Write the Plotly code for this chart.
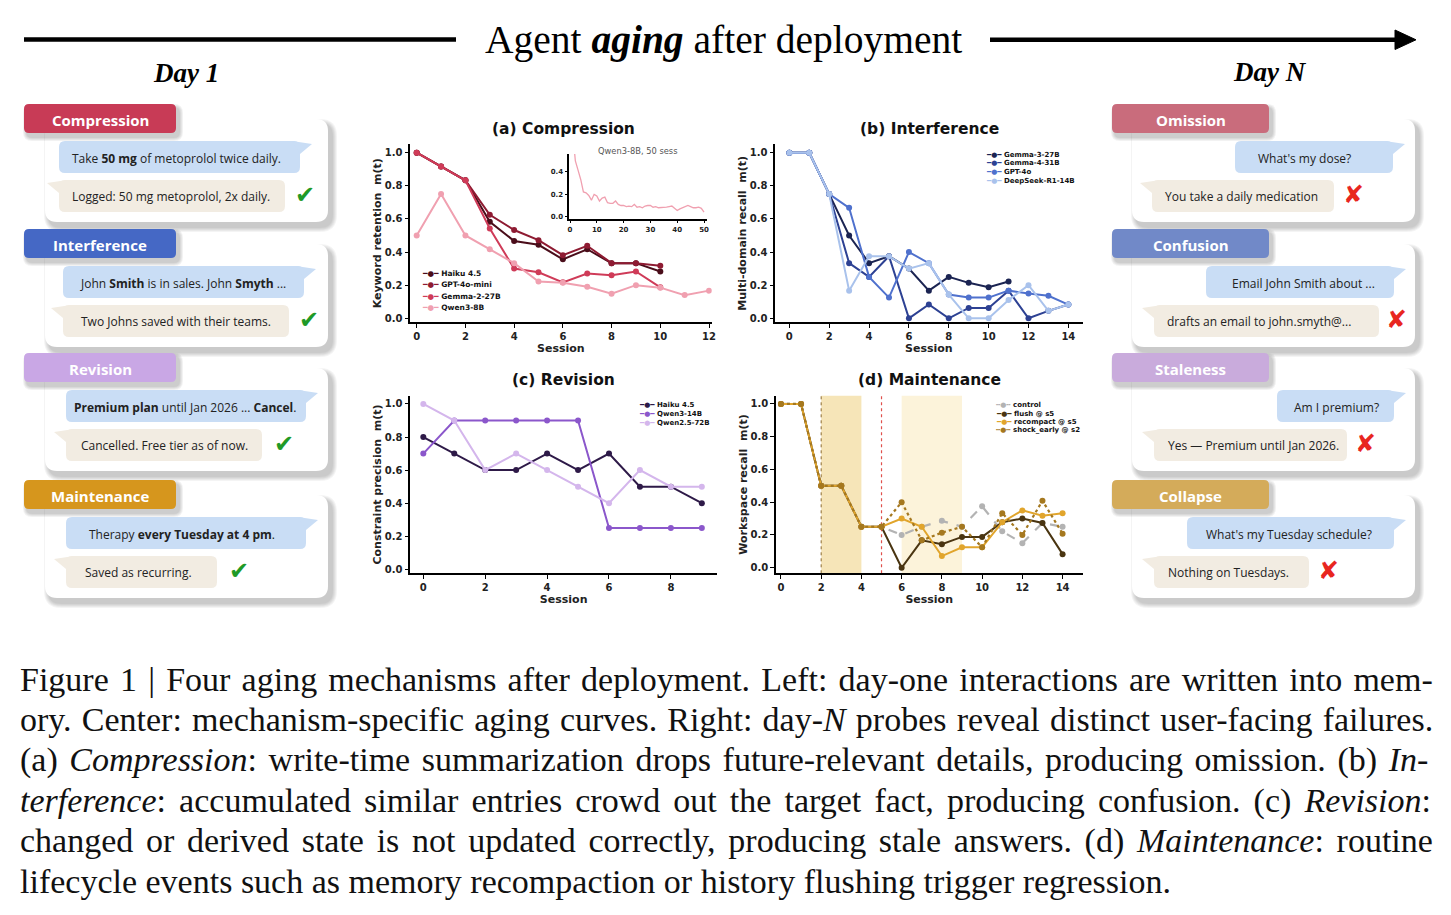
import plotly.graph_objects as go

W, H = 1451, 915

# ---------------- data ----------------
comp_sessions = list(range(11))
comp_sessions_qwen = list(range(13))
comp_haiku = [1.0, 0.917, 0.833, 0.583, 0.467, 0.444, 0.356, 0.417, 0.333, 0.333, 0.283]
comp_gpt4omini = [1.0, 0.917, 0.833, 0.625, 0.533, 0.472, 0.381, 0.438, 0.333, 0.333, 0.317]
comp_gemma2 = [1.0, 0.917, 0.833, 0.542, 0.300, 0.278, 0.217, 0.270, 0.260, 0.283, 0.187]
comp_qwen3_8b = [0.5, 0.75, 0.5, 0.417, 0.333, 0.222, 0.214, 0.190, 0.148, 0.200, 0.185, 0.140, 0.167]

inset_sessions = list(range(1, 51))
inset_qwen3_8b = [0.75, 0.5, 0.417, 0.333, 0.222, 0.214, 0.19, 0.148, 0.2, 0.185,
                  0.14, 0.167, 0.175, 0.125, 0.12, 0.12, 0.14, 0.11, 0.1, 0.1,
                  0.09, 0.095, 0.09, 0.11, 0.085, 0.09, 0.08, 0.095, 0.1, 0.1,
                  0.085, 0.09, 0.08, 0.08, 0.08, 0.085, 0.09, 0.095, 0.075, 0.055,
                  0.07, 0.08, 0.095, 0.1, 0.09, 0.08, 0.08, 0.085, 0.075, 0.04]

intf_sessions_gemma3 = list(range(12))
intf_sessions = list(range(15))
intf_gemma3 = [1.0, 1.0, 0.75, 0.5, 0.333, 0.375, 0.3, 0.167, 0.25, 0.214, 0.188, 0.222]
intf_gemma4 = [1.0, 1.0, 0.75, 0.333, 0.25, 0.375, 0.0, 0.083, 0.0, 0.0625, 0.0625, 0.167, 0.0, 0.045, 0.083]
intf_gpt4o = [1.0, 1.0, 0.75, 0.667, 0.25, 0.125, 0.4, 0.333, 0.143, 0.125, 0.125, 0.167, 0.15, 0.136, 0.083]
intf_deepseek = [1.0, 1.0, 0.75, 0.167, 0.375, 0.375, 0.3, 0.333, 0.143, 0.0, 0.0, 0.111, 0.2, 0.045, 0.083]

rev_sessions = list(range(10))
rev_haiku = [0.8, 0.7, 0.6, 0.6, 0.7, 0.6, 0.7, 0.5, 0.5, 0.4]
rev_qwen3_14b = [0.7, 0.9, 0.9, 0.9, 0.9, 0.9, 0.25, 0.25, 0.25, 0.25]
rev_qwen25_72b = [1.0, 0.9, 0.6, 0.7, 0.6, 0.5, 0.4, 0.6, 0.5, 0.5]

maint_sessions = list(range(15))
maint_control = [1.0, 1.0, 0.5, 0.5, 0.25, 0.25, 0.2, 0.25, 0.286, 0.25, 0.375, 0.222, 0.15, 0.273, 0.25]
maint_flush = [1.0, 1.0, 0.5, 0.5, 0.25, 0.25, 0.0, 0.167, 0.143, 0.188, 0.188, 0.278, 0.3, 0.273, 0.083]
maint_recompact = [1.0, 1.0, 0.5, 0.5, 0.25, 0.25, 0.3, 0.25, 0.071, 0.125, 0.125, 0.278, 0.35, 0.318, 0.333]
maint_shock = [1.0, 1.0, 0.5, 0.5, 0.25, 0.25, 0.4, 0.167, 0.214, 0.25, 0.125, 0.333, 0.2, 0.409, 0.208]
maint_shock_session = 2
maint_event_session = 5
maint_window_early = (2, 4)
maint_window_late = (6, 9)

# series specs: (x, y, name, color, dash)
panel_a = [
    (comp_sessions, comp_haiku, 'Haiku 4.5', '#4a0d1a', 'solid'),
    (comp_sessions, comp_gpt4omini, 'GPT-4o-mini', '#8e1b32', 'solid'),
    (comp_sessions, comp_gemma2, 'Gemma-2-27B', '#cf3b58', 'solid'),
    (comp_sessions_qwen, comp_qwen3_8b, 'Qwen3-8B', '#f0a0b0', 'solid'),
]
panel_b = [
    (intf_sessions_gemma3, intf_gemma3, 'Gemma-3-27B', '#1b2452', 'solid'),
    (intf_sessions, intf_gemma4, 'Gemma-4-31B', '#2d4193', 'solid'),
    (intf_sessions, intf_gpt4o, 'GPT-4o', '#4f71cd', 'solid'),
    (intf_sessions, intf_deepseek, 'DeepSeek-R1-14B', '#a9c2ec', 'solid'),
]
panel_c = [
    (rev_sessions, rev_haiku, 'Haiku 4.5', '#2e1a48', 'solid'),
    (rev_sessions, rev_qwen3_14b, 'Qwen3-14B', '#8b57cb', 'solid'),
    (rev_sessions, rev_qwen25_72b, 'Qwen2.5-72B', '#d4b6ec', 'solid'),
]
panel_d = [
    (maint_sessions, maint_control, 'control', '#b3b3b3', 'dash'),
    (maint_sessions, maint_flush, 'flush @ s5', '#4a3511', 'solid'),
    (maint_sessions, maint_recompact, 'recompact @ s5', '#e1a52c', 'solid'),
    (maint_sessions, maint_shock, 'shock_early @ s2', '#a5781f', 'dot'),
]


def X(px):
    return px / W


def Y(py):
    return 1 - py / H


fig = go.Figure()
shapes = []
annots = []


def text(t, x, y, size, color='#222', family='Open Sans', xanchor='left', weight='normal'):
    annots.append(dict(text=t, x=X(x), y=Y(y), xref='paper', yref='paper', showarrow=False,
                       xanchor=xanchor, yanchor='middle',
                       font=dict(family=family, size=size, color=color, weight=weight)))


LEG_GLYPH = {'solid': '━●━', 'dash': '╍●╍', 'dot': '┅●┅'}


def add_panel(series, xa, ya, leg_x, leg_y, leg_step, leg_size):
    for i, (x, y, name, color, dash) in enumerate(series):
        fig.add_trace(go.Scatter(
            x=x, y=y, name=name, mode='lines+markers',
            line=dict(color=color, width=2.2 if dash != 'solid' else 2.0, dash=dash),
            marker=dict(color=color, size=6),
            xaxis=xa, yaxis=ya, showlegend=False))
        # compact legend entry (text)
        text(f'<span style="color:{color}">{LEG_GLYPH[dash]}</span> {name}',
             leg_x, leg_y + i * leg_step, leg_size, color='#111', family='DejaVu Sans', weight='bold')


add_panel(panel_a, 'x', 'y', 420, 273.5, 11.4, 7.5)
fig.add_trace(go.Scatter(x=inset_sessions, y=inset_qwen3_8b, mode='lines', name='Qwen3-8B (50 sess)',
                         line=dict(color='#f0a0b0', width=1.3), xaxis='x5', yaxis='y5',
                         showlegend=False))
add_panel(panel_b, 'x2', 'y2', 984, 154.5, 8.7, 7)
add_panel(panel_c, 'x3', 'y3', 637, 405, 9, 7)
add_panel(panel_d, 'x4', 'y4', 994, 405, 8.5, 7)

# ---------------- axes ----------------
TICKFONT = dict(family='DejaVu Sans', size=10, color='#222', weight='bold')
TITLEFONT = dict(family='DejaVu Sans', size=11, color='#222', weight='bold')
SMALLTICK = dict(family='DejaVu Sans', size=7, color='#222', weight='bold')


def xax(d0, d1, r, dtick, anchor, title='Session', font=TICKFONT, ticklen=3.5, lw=2):
    return dict(domain=[X(d0), X(d1)], range=r, dtick=dtick, tick0=0, anchor=anchor,
                showline=True, linecolor='black', linewidth=lw, ticks='outside', ticklen=ticklen,
                tickwidth=1.3, tickcolor='black', showgrid=False, zeroline=False,
                tickfont=font, fixedrange=True,
                title=dict(text=title, font=TITLEFONT, standoff=0) if title else None)


def yax(p_top, p_bot, r, anchor, title, tickvals=None, dtick=0.2, font=TICKFONT, ticklen=3.5, lw=2):
    d = dict(domain=[Y(p_bot), Y(p_top)], range=r, anchor=anchor, tickformat='.1f',
             showline=True, linecolor='black', linewidth=lw, ticks='outside', ticklen=ticklen,
             tickwidth=1.3, tickcolor='black', showgrid=False, zeroline=False,
             tickfont=font, fixedrange=True,
             title=dict(text=title, font=TITLEFONT, standoff=1) if title else None)
    if tickvals is not None:
        d['tickvals'] = tickvals
    else:
        d['dtick'] = dtick
        d['tick0'] = 0
    return d


NB = '\u00a0'
fig.update_layout(
    xaxis=xax(410, 711.7, [-0.275, 12.11], 2, 'y'),
    yaxis=yax(144.3, 322.3, [-0.0242, 1.0507], 'x', f'Keyword retention{NB} m(t)'),
    xaxis2=xax(775, 1082.7, [-0.72, 14.72], 2, 'y2'),
    yaxis2=yax(144.3, 322.3, [-0.0242, 1.0507], 'x2', f'Multi-domain recall{NB} m(t)'),
    xaxis3=xax(410, 717.3, [-0.43, 9.5], 2, 'y3'),
    yaxis3=yax(395.7, 573.3, [-0.0242, 1.05], 'x3', f'Constraint precision{NB} m(t)'),
    xaxis4=xax(775.7, 1082.7, [-0.26, 15.0], 2, 'y4'),
    yaxis4=yax(395.7, 573.3, [-0.034, 1.05], 'x4', f'Workspace recall{NB} m(t)'),
    xaxis5=xax(569.3, 706.7, [-0.26, 51.0], 10, 'y5', title=None, font=SMALLTICK, ticklen=3, lw=1.5),
    yaxis5=yax(154, 218.7, [-0.018, 0.561], 'x5', None, tickvals=[0, 0.2, 0.4],
               font=SMALLTICK, ticklen=3, lw=1.5),
)

# (d) maintenance windows and event lines
for (a, b), col in ((maint_window_early, '#f6e5b8'), (maint_window_late, '#fcf3da')):
    shapes.append(dict(type='rect', xref='x4', yref='y4 domain', x0=a, x1=b, y0=0, y1=1,
                       fillcolor=col, line_width=0, layer='below'))
shapes.append(dict(type='line', xref='x4', yref='y4 domain', x0=maint_shock_session, x1=maint_shock_session,
                   y0=0, y1=1, line=dict(color='#8c6a2c', width=1, dash='dot'), layer='below'))
shapes.append(dict(type='line', xref='x4', yref='y4 domain', x0=maint_event_session, x1=maint_event_session,
                   y0=0, y1=1, line=dict(color='#e0504c', width=1.2, dash='dot'), layer='below'))

# subplot titles
for txt, cx, cy in (('(a) Compression', 563, 129), ('(b) Interference', 929, 129),
                    ('(c) Revision', 563, 380), ('(d) Maintenance', 929.5, 380)):
    text(txt, cx, cy, 15.5, color='#111', family='DejaVu Sans', xanchor='center', weight='bold')
text('Qwen3-8B, 50 sess', 637, 150.5, 8.3, color='#555', family='DejaVu Sans', xanchor='center')

# ---------------- header ----------------
shapes.append(dict(type='line', xref='paper', yref='paper', x0=X(24), x1=X(456), y0=Y(39.5), y1=Y(39.5),
                   line=dict(color='black', width=4.4)))
shapes.append(dict(type='line', xref='paper', yref='paper', x0=X(990), x1=X(1398), y0=Y(39.8), y1=Y(39.8),
                   line=dict(color='black', width=4.4)))
shapes.append(dict(type='path', xref='paper', yref='paper',
                   path=f'M {X(1395)},{Y(30)} L {X(1416)},{Y(39.8)} L {X(1395)},{Y(49.5)} Z',
                   fillcolor='black', line=dict(color='black', width=1)))
SERIF = 'Liberation Serif'
text('Agent <b><i>aging</i></b> after deployment', 723.5, 40, 39.5, color='black', family=SERIF, xanchor='center')
text('<b><i>Day 1</i></b>', 186, 73, 27, color='black', family=SERIF, xanchor='center')
text('<b><i>Day N</i></b>', 1270, 72, 27, color='black', family=SERIF, xanchor='center')


# ---------------- cards ----------------
def rr_path(x0, y0, x1, y1, r):
    return (f'M {X(x0 + r)},{Y(y0)} L {X(x1 - r)},{Y(y0)} Q {X(x1)},{Y(y0)} {X(x1)},{Y(y0 + r)} '
            f'L {X(x1)},{Y(y1 - r)} Q {X(x1)},{Y(y1)} {X(x1 - r)},{Y(y1)} '
            f'L {X(x0 + r)},{Y(y1)} Q {X(x0)},{Y(y1)} {X(x0)},{Y(y1 - r)} '
            f'L {X(x0)},{Y(y0 + r)} Q {X(x0)},{Y(y0)} {X(x0 + r)},{Y(y0)} Z')


def rrect(x0, y0, x1, y1, r, fill):
    shapes.append(dict(type='path', xref='paper', yref='paper', path=rr_path(x0, y0, x1, y1, r),
                       fillcolor=fill, line=dict(width=0), layer='below'))


def shadow(x0, y0, x1, y1, r, dx=4, dy=5, n=5, alpha=0.045):
    for i in range(n, 0, -1):
        rrect(x0 + dx - i, y0 + dy - i, x1 + dx + i, y1 + dy + i, r + i, f'rgba(0,0,0,{alpha})')


def tri(pts, fill):
    p = 'M ' + ' L '.join(f'{X(a)},{Y(b)}' for a, b in pts) + ' Z'
    shapes.append(dict(type='path', xref='paper', yref='paper', path=p, fillcolor=fill,
                       line=dict(width=0), layer='below'))


BLUE = '#c9ddf5'
BEIGE = '#f2ece2'

left_cards = [
    ('Compression', '#c83b56', 104, 'Take <b>50 mg</b> of metoprolol twice daily.', (59, 300), 70,
     'Logged: 50 mg metoprolol, 2x daily.', (59, 285), 70, 305),
    ('Interference', '#4568c5', 229, 'John <b>Smith</b> is in sales. John <b>Smyth</b> ...', (63, 304), 78,
     'Two Johns saved with their teams.', (63, 289), 79, 309),
    ('Revision', '#c9a7e5', 353, '<b>Premium plan</b> until Jan 2026 ... <b>Cancel</b>.', (66, 306), 72,
     'Cancelled. Free tier as of now.', (66, 262), 79, 284),
    ('Maintenance', '#d6961d', 480, 'Therapy <b>every Tuesday at 4 pm</b>.', (66, 306), 87,
     'Saved as recurring.', (66, 217), 83, 239),
]
right_cards = [
    ('Omission', '#c96c7c', 104, "What's my dose?", (1235, 1393), 1256,
     'You take a daily medication', (1152, 1334), 1163, 1353),
    ('Confusion', '#7189c8', 229, 'Email John Smith about ...', (1206, 1394), 1230,
     'drafts an email to john.smyth@...', (1154, 1379), 1165, 1396),
    ('Staleness', '#c9abdc', 353, 'Am I premium?', (1277, 1394), 1292,
     'Yes — Premium until Jan 2026.', (1154, 1347), 1166, 1365),
    ('Collapse', '#d4ab5a', 480, "What's my Tuesday schedule?", (1187, 1394), 1204,
     'Nothing on Tuesdays.', (1154, 1309), 1166, 1328),
]


def draw_card(label, lcol, L, user, ub, utx, reply, rb, rtx, markx, lx0, lx1, cx0, cx1, ok):
    shadow(cx0, L + 15, cx1, L + 118, 12)
    rrect(cx0, L + 15, cx1, L + 118, 12, 'white')
    u0, u1 = ub
    rrect(u0, L + 37, u1, L + 69, 6, BLUE)
    tri([(u1 - 8, L + 37), (u1 + 12, L + 40), (u1, L + 50)], BLUE)
    r0, r1 = rb
    rrect(r0, L + 76, r1, L + 108, 6, BEIGE)
    tri([(r0 + 8, L + 76), (r0 - 12, L + 79), (r0, L + 89)], BEIGE)
    text(user, utx, L + 54, 12)
    text(reply, rtx, L + 92.5, 12)
    if ok:
        text('✔', markx, L + 91, 24, color='#1f9a27', family='DejaVu Sans', xanchor='center')
    else:
        text('✘', markx, L + 90, 25, color='#e8261f', family='DejaVu Sans', xanchor='center')
    shadow(lx0, L, lx1, L + 29, 5, dx=3, dy=4, n=4, alpha=0.05)
    rrect(lx0, L, lx1, L + 29, 5, lcol)
    text(label, (lx0 + lx1) / 2, L + 16, 15, color='white', xanchor='center', weight='bold')


for c in left_cards:
    draw_card(*c, 24, 176, 45, 328, True)
for c in right_cards:
    draw_card(*c, 1112, 1269, 1132, 1415, False)

# ---------------- caption ----------------
caption_lines = [
    ('Figure 1 | Four aging mechanisms after deployment. Left: day-one interactions are written into mem-', 2.7),
    ('ory. Center: mechanism-specific aging curves. Right: day-<i>N</i> probes reveal distinct user-facing failures.', 1.7),
    ('(a) <i>Compression</i>: write-time summarization drops future-relevant details, producing omission. (b) <i>In-</i>', 3.1),
    ('<i>terference</i>: accumulated similar entries crowd out the target fact, producing confusion. (c) <i>Revision</i>:', 4.6),
    ('changed or derived state is not updated correctly, producing stale answers. (d) <i>Maintenance</i>: routine', 4.2),
    ('lifecycle events such as memory recompaction or history flushing trigger regression.', 0),
]
caption_y = [679, 719.5, 760, 800.5, 841, 881]
for (t, ws), yy in zip(caption_lines, caption_y):
    t2 = f'<span style="word-spacing:{ws}px">{t}</span>' if ws else t
    text(t2, 18, yy, 34, color='#111', family=SERIF)

fig.update_layout(
    shapes=shapes, annotations=annots,
    width=W, height=H, margin=dict(l=0, r=0, t=0, b=0, autoexpand=False),
    paper_bgcolor='white', plot_bgcolor='rgba(0,0,0,0)',
    font=dict(family='DejaVu Sans'),
    showlegend=False, hovermode='closest',
)

fig.write_html('out.html', include_plotlyjs=True, config={'displayModeBar': False})
